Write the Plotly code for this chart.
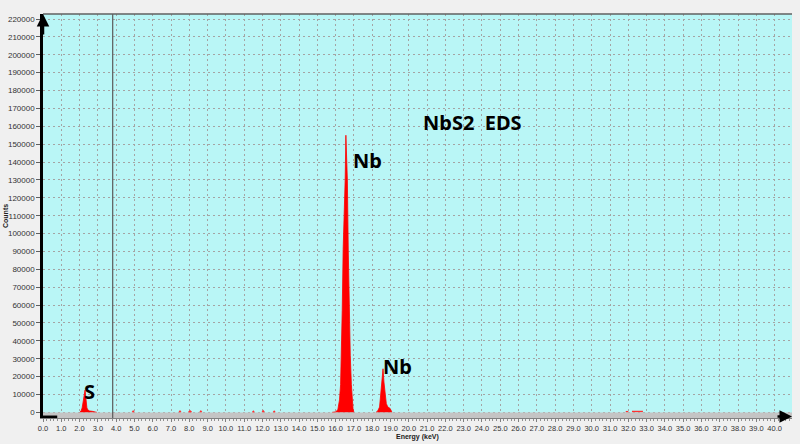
import plotly.graph_objects as go

# ---- data ----
s_kev = [2.00, 2.08, 2.14, 2.19, 2.23, 2.27, 2.30, 2.33, 2.36, 2.40, 2.46, 2.55, 2.70, 2.85, 2.95]
s_counts = [0, 800, 2500, 5000, 8000, 11000, 12500, 9500, 5000, 2500, 1300, 800, 600, 400, 0]

nbka_kev = [15.80, 16.00, 16.12, 16.21, 16.27, 16.32, 16.36, 16.41, 16.46, 16.52, 16.56,
            16.60, 16.64, 16.69, 16.74, 16.80, 16.86, 16.91, 16.95, 17.00]
nbka_counts = [0, 300, 1500, 7000, 15500, 32000, 57000, 91000, 107000, 130000, 155000,
               140000, 130000, 90000, 57000, 32000, 15500, 7000, 2000, 0]

nbkb_kev = [18.20, 18.30, 18.40, 18.48, 18.54, 18.59, 18.64, 18.72, 18.77, 18.85, 18.95, 19.03, 19.08]
nbkb_counts = [0, 800, 3000, 11000, 18000, 24400, 17000, 11000, 5000, 3000, 2500, 1200, 0]

minor_kev = [4.88, 4.93, 4.98, None, 7.44, 7.49, 7.54, None, 7.96, 8.04, 8.12, None,
             8.58, 8.63, 8.68, None, 11.45, 11.50, 11.55, None, 11.98, 12.04, 12.10, None,
             12.59, 12.64, 12.69, None, 31.86, 31.93, 32.00, None, 32.20, 32.50, 32.80]
minor_counts = [0, 700, 0, None, 0, 700, 0, None, 0, 800, 0, None,
                0, 700, 0, None, 0, 600, 0, None, 0, 800, 0, None,
                0, 600, 0, None, 400, 500, 400, None, 500, 600, 500]

cursor_kev = 3.81

labels_text = ["S", "Nb", "Nb", "NbS2  EDS"]
labels_kev = [2.55, 17.76, 19.37, 23.5]
labels_counts = [11600, 140600, 25500, 161900]

x_ticks = [i * 1.0 for i in range(41)]
y_ticks = [i * 10000 for i in range(23)]

# ---- figure ----
fig = go.Figure()
for xs, ys in [(s_kev, s_counts), (nbka_kev, nbka_counts), (nbkb_kev, nbkb_counts)]:
    fig.add_trace(go.Scatter(x=xs, y=ys, mode="lines", fill="tozeroy",
                             line=dict(color="#ff0000", width=0.8),
                             fillcolor="#ff0000", hoverinfo="skip", showlegend=False))
fig.add_trace(go.Scatter(x=minor_kev, y=minor_counts, mode="lines", connectgaps=False,
                         line=dict(color="#ff3030", width=1.5), hoverinfo="skip",
                         showlegend=False))

for t, xk, yc in zip(labels_text, labels_kev, labels_counts):
    fig.add_annotation(x=xk, y=yc, text="<b>%s</b>" % t, showarrow=False,
                       font=dict(family="Noto Sans", size=20, color="#000000"))

# gray band below zero
fig.add_shape(type="rect", xref="x domain", yref="y", x0=0, x1=1, y0=-3130, y1=0,
              fillcolor="#c4c4c4", line=dict(width=0), layer="above")
# cursor line
fig.add_shape(type="line", xref="x", yref="y domain", x0=cursor_kev, x1=cursor_kev,
              y0=0, y1=1, line=dict(color="#5a5a5a", width=1.2), layer="above")
# top border
fig.add_shape(type="line", xref="x domain", yref="y domain", x0=0, x1=1, y0=1, y1=1,
              line=dict(color="#606060", width=1.5), layer="above")
# bottom-left corner
fig.add_shape(type="line", xref="x domain", yref="y domain", x0=0, x1=0.019, y0=0.003, y1=0.003,
              line=dict(color="#000000", width=2.5), layer="above")

# axis arrows
fig.add_annotation(xref="x domain", yref="y domain", x=0, y=1, ax=0, ay=22, text="",
                   showarrow=True, arrowhead=2, arrowsize=1, arrowwidth=2.5, arrowcolor="#000000")
fig.add_annotation(xref="x domain", yref="y domain", x=1, y=0.004, ax=-16, ay=0, text="",
                   showarrow=True, arrowhead=2, arrowsize=1, arrowwidth=2.5, arrowcolor="#000000")

# axis titles
fig.add_annotation(xref="paper", yref="paper", x=0.5, y=0, yshift=-19, yanchor="middle",
                   text="<b>Energy (keV)</b>", showarrow=False,
                   font=dict(family="Liberation Sans", size=7, color="#202020"))
fig.add_annotation(xref="paper", yref="paper", x=0, xshift=-38, xanchor="center", y=0.5,
                   text="<b>Counts</b>", textangle=-90, showarrow=False,
                   font=dict(family="Liberation Sans", size=7, color="#202020"))

fig.update_layout(
    width=800, height=444,
    margin=dict(l=43, r=8, t=14, b=26, autoexpand=False),
    paper_bgcolor="#f0f0f0", plot_bgcolor="#b9f6f6",
    font=dict(family="Liberation Sans", size=8, color="#333333"),
    showlegend=False,
)
fig.update_xaxes(range=[0, 40.95], tickmode="array", tickvals=x_ticks,
                 ticktext=["%.1f" % v for v in x_ticks], automargin=False,
                 showgrid=True, gridcolor="#a4a4a4", griddash="2px,3px", gridwidth=1,
                 zeroline=False, showline=True, linecolor="#808080", linewidth=1,
                 ticks="outside", ticklen=3, tickcolor="#808080",
                 tickfont=dict(size=7.5, color="#333333"),
                 minor=dict(dtick=0.2, ticks="outside", ticklen=2, tickcolor="#909090", showgrid=False))
fig.update_yaxes(range=[-3130, 222800], tickmode="array", tickvals=y_ticks,
                 ticktext=[str(v) for v in y_ticks], automargin=False,
                 showgrid=True, gridcolor="#a4a4a4", griddash="2px,3px", gridwidth=1,
                 zeroline=False, showline=True, linecolor="#000000", linewidth=2.5,
                 ticks="outside", ticklen=4, tickcolor="#606060",
                 tickfont=dict(size=8, color="#333333"))

fig.write_html("out.html", config={"displayModeBar": False},
               post_script="document.body.style.margin='0';document.body.style.overflow='hidden';document.body.style.background='#f0f0f0';")
